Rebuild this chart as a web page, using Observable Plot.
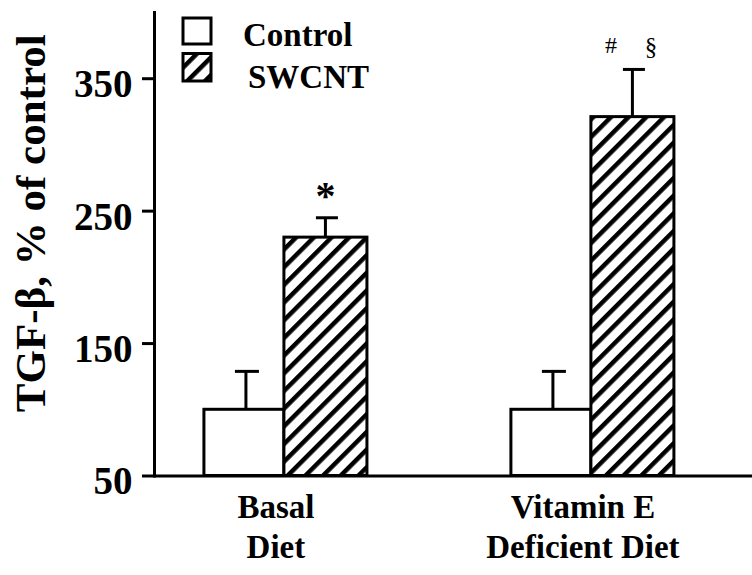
<!DOCTYPE html>
<html><head><meta charset="utf-8">
<script src="https://cdn.jsdelivr.net/npm/d3@7"></script>
<script src="https://cdn.jsdelivr.net/npm/@observablehq/plot@0.6"></script>
<style>
html,body{margin:0;padding:0;background:#fff;}
#chart{position:relative;width:752px;height:575px;}
</style></head><body><div id="chart"></div>
<script>
// ---- data ----
const groups = ["Basal\nDiet", "Vitamin E\nDeficient Diet"];
const series = ["Control", "SWCNT"];
const controlMean = [100, 100];
const controlErr = [29, 29];
const swcntMean = [230, 321];
const swcntErr = [15, 36];
const starMarks = ["*", ""];
const hashMarks = ["", "#"];
const sectionMarks = ["", "§"];
const yDomain = [50, 400];
const yTicks = [50, 150, 250, 350];
const yLabel = "TGF-β, % of control";

const rows = groups.map((g, i) => ({
  group: g,
  base: yDomain[0],
  control: controlMean[i],
  controlTop: controlMean[i] + controlErr[i],
  swcnt: swcntMean[i],
  swcntTop: swcntMean[i] + swcntErr[i],
  star: starMarks[i],
  hash: hashMarks[i],
  section: sectionMarks[i]
}));

const font = "'Liberation Serif','Times New Roman',serif";
const sw = 3;

const plot = Plot.plot({
  width: 752,
  height: 575,
  marginLeft: 154,
  marginRight: 0,
  marginTop: 12,
  marginBottom: 99.5,
  style: {fontFamily: font, fontWeight: "bold", background: "white", color: "black", overflow: "visible"},
  x: {domain: groups, paddingInner: 0.469, paddingOuter: 0.2085, align: 0.39, round: false},
  y: {domain: yDomain},
  marks: [
    // error stems
    Plot.ruleX(rows, {x: "group", y1: "control", y2: "controlTop", dx: -40, stroke: "black", strokeWidth: sw}),
    Plot.ruleX(rows, {x: "group", y1: "swcnt", y2: "swcntTop", dx: 39.5, stroke: "black", strokeWidth: sw}),
    // caps
    Plot.tickY(rows, {x: "group", y: "controlTop", insetLeft: 31, insetRight: 108, stroke: "black", strokeWidth: sw}),
    Plot.tickY(rows, {x: "group", y: "swcntTop", insetLeft: 112, insetRight: 29, stroke: "black", strokeWidth: sw}),
    // bars
    Plot.barY(rows, {x: "group", y1: "base", y2: "control", insetRight: 83, fill: "white", stroke: "black", strokeWidth: sw}),
    Plot.barY(rows, {x: "group", y1: "base", y2: "swcnt", insetLeft: 80, fill: "url(#hatch)", stroke: "black", strokeWidth: sw}),
    // significance marks
    Plot.text(rows, {x: "group", y: "swcntTop", text: "star", dx: 39.5, dy: -9, lineAnchor: "bottom", fontSize: 40, fontWeight: "bold"}),
    Plot.text(rows, {x: "group", y: "swcntTop", text: "hash", dx: 18, dy: -16, lineAnchor: "bottom", fontSize: 24, fontWeight: "normal"}),
    Plot.text(rows, {x: "group", y: "swcntTop", text: "section", dx: 58, dy: -14, lineAnchor: "bottom", fontSize: 25, fontWeight: "normal"}),
    // axes
    Plot.frame({anchor: "left", stroke: "black", strokeWidth: sw}),
    Plot.ruleY([yDomain[0]], {stroke: "black", strokeWidth: sw}),
    Plot.axisY(yTicks, {tickSize: 12, strokeWidth: sw, tickFormat: () => "", label: null}),
    Plot.axisY(yTicks, {tickSize: 0, tickPadding: 22, fontSize: 39, dy: 6, label: null}),
    Plot.axisX({tickSize: 0, tickPadding: 14, fontSize: 33, lineHeight: 1.21, dx: -10, label: null}),
    Plot.text([yLabel], {frameAnchor: "left", textAnchor: "middle", rotate: -90, dx: -123.5, dy: -21, fontSize: 43, fontWeight: "bold"})
  ]
});

const svg = d3.select(plot);
const defs = svg.insert("defs", ":first-child");
const pat = defs.append("pattern")
  .attr("id", "hatch")
  .attr("patternUnits", "userSpaceOnUse")
  .attr("width", 12.5).attr("height", 12.5)
  .attr("patternTransform", "rotate(45)");
pat.append("rect").attr("width", 12.5).attr("height", 12.5).attr("fill", "white");
pat.append("rect").attr("width", 4.5).attr("height", 12.5).attr("fill", "black");

// legend
const legendFill = {Control: "white", SWCNT: "url(#hatch)"};
const boxY = [18, 53.5];
const boxH = [26, 27.5];
const textX = [243, 248];
const textY = [46, 88];
const leg = svg.append("g")
  .attr("font-family", font).attr("font-weight", "bold")
  .attr("text-anchor", "start");
series.forEach((s, i) => {
  leg.append("rect")
    .attr("x", 183).attr("y", boxY[i]).attr("width", 28).attr("height", boxH[i])
    .attr("fill", legendFill[s]).attr("stroke", "black").attr("stroke-width", sw);
  leg.append("text")
    .attr("x", textX[i]).attr("y", textY[i]).attr("font-size", 33).attr("fill", "black")
    .attr("text-anchor", "start")
    .text(s);
});

document.getElementById("chart").appendChild(plot);
</script>
</body></html>
